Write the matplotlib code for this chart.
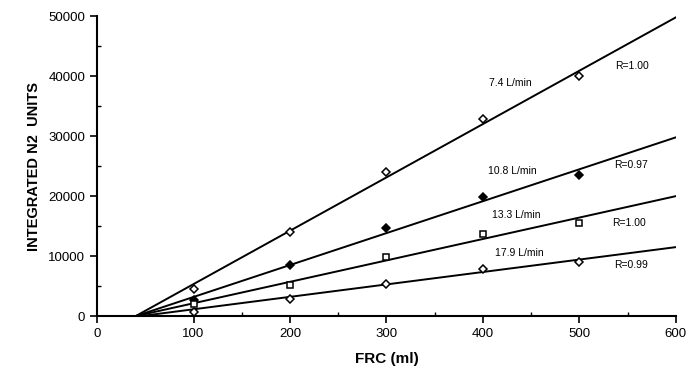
import numpy as np
import matplotlib.pyplot as plt
from matplotlib.ticker import MultipleLocator

plt.rcParams['font.family'] = ['Liberation Sans', 'DejaVu Sans']

# measured points per flow rate
frc = [100, 200, 300, 400, 500]
flow_labels = ["7.4 L/min", "10.8 L/min", "13.3 L/min", "17.9 L/min"]
r_labels = ["R=1.00", "R=0.97", "R=1.00", "R=0.99"]
n2_74 = [4600, 14000, 24000, 32800, 40000]
n2_108 = [2700, 8500, 14700, 19900, 23500]
n2_133 = [2000, 5200, 9900, 13700, 15500]
n2_179 = [700, 2900, 5300, 7800, 9000]

# regression lines: (x-intercept, value at 600)
fit_x0 = [40, 40, 40, 45]
fit_y600 = [49800, 29800, 20000, 11500]

# label positions (data coords)
flow_pos = [(428, 38800), (430, 24200), (435, 16800), (438, 10500)]
r_pos = [(554, 41700), (553, 25200), (551, 15500), (553, 8500)]

series = [n2_74, n2_108, n2_133, n2_179]
markers = [('D', 'white', 4.5), ('D', 'black', 4.5), ('s', 'white', 5), ('D', 'white', 4)]

fig = plt.figure(figsize=(7, 3.75), dpi=100)
ax = fig.add_axes([0.1386, 0.157, 0.827, 0.8])

for i, ys in enumerate(series):
    xs = np.array([fit_x0[i], 600])
    ax.plot(xs, [0, fit_y600[i]], color='black', lw=1.4, zorder=2)
    m, fc, ms = markers[i]
    ax.plot(frc, ys, linestyle='none', marker=m, markersize=ms,
            markerfacecolor=fc, markeredgecolor='black', markeredgewidth=1.1, zorder=3)
    ax.text(flow_pos[i][0], flow_pos[i][1], flow_labels[i], fontsize=7.5,
            ha='center', va='center')
    ax.text(r_pos[i][0], r_pos[i][1], r_labels[i], fontsize=7.5,
            ha='center', va='center')

ax.set_xlim(0, 600)
ax.set_ylim(0, 50000)
ax.xaxis.set_major_locator(MultipleLocator(100))
ax.xaxis.set_minor_locator(MultipleLocator(50))
ax.yaxis.set_major_locator(MultipleLocator(10000))
ax.yaxis.set_minor_locator(MultipleLocator(5000))
ax.tick_params(which='major', direction='out', length=5, width=1.2, labelsize=9.5)
ax.tick_params(which='minor', direction='in', length=3, width=1)
ax.spines['top'].set_visible(False)
ax.spines['right'].set_visible(False)
ax.spines['left'].set_linewidth(1.5)
ax.spines['bottom'].set_linewidth(1.5)

ax.set_xlabel("FRC (ml)", fontsize=11, fontweight='bold', labelpad=9)
ax.set_ylabel("INTEGRATED N2  UNITS", fontsize=10.5, fontweight='bold', labelpad=5)

fig.savefig("out.png", dpi=100)
